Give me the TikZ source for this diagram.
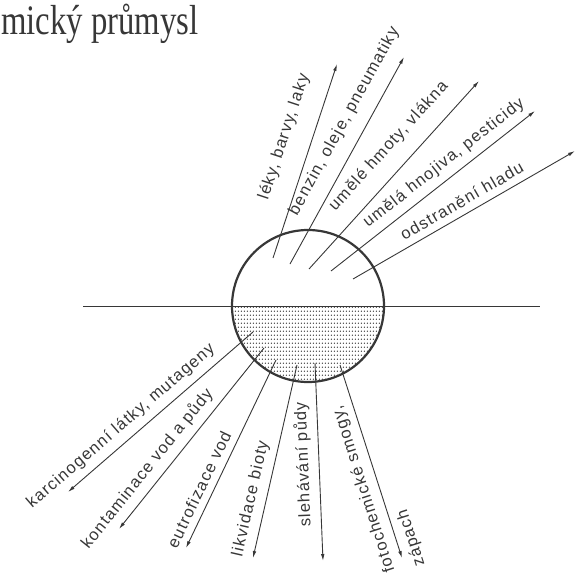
\documentclass[tikz,border=0pt]{standalone}
\usepackage{fontspec}
\usepackage{tikz}
\usetikzlibrary{arrows.meta,patterns.meta}
\newfontfamily\labelfont[LetterSpace=7]{Liberation Sans}
\newfontfamily\titlefont[FakeStretch=0.78]{Liberation Serif}
\definecolor{inkgray}{RGB}{55,55,55}
\tikzdeclarepattern{name=seadots, type=uncolored, bounding box={(0pt,0pt) and (3.3pt,3.8pt)}, tile size={(3.3pt,3.8pt)}, code={\fill (1.65pt,1.9pt) circle (0.8pt);}}
\tikzset{globe/.style={circle, draw=inkgray, line width=2.2pt, minimum size=152pt, inner sep=0pt}, dotfill/.style={pattern=seadots, pattern color=black!70}, flow/.style={-{Latex[length=7pt,width=3.6pt]}, line width=0.9pt, draw=inkgray}, lbl/.style={sloped, above=7pt, inner sep=0pt, text=inkgray, font=\labelfont\fontsize{16.5}{19}\selectfont}, lblup/.style={sloped, allow upside down, rotate=180, above=7pt, inner sep=0pt, text=inkgray, font=\labelfont\fontsize{16.5}{19}\selectfont}, lblright/.style={sloped, allow upside down, rotate=180, below=7pt, inner sep=0pt, text=inkgray, font=\labelfont\fontsize{16.5}{19}\selectfont}}
\begin{document}
\begin{tikzpicture}[x=1pt,y=-1pt]
\useasboundingbox (0,0) rectangle (576,578);
\clip (0,0) rectangle (576,578);
\node[anchor=base west, inner sep=0pt, text=inkgray, font=\titlefont\fontsize{42}{44}\selectfont] (title) at (1,35) {mický průmysl};
\coordinate (core) at (308,306);
\fill[dotfill] (core) ++(-76,0) arc[start angle=180, end angle=0, radius=76] -- cycle;
\coordinate (horizonL) at (83,306);
\coordinate (horizonR) at (540,306);
\draw[inkgray, line width=0.8pt] (horizonL) -- (horizonR);
\node[globe] (earth) at (core) {};
% useful products
\coordinate (u1) at (273,258); \coordinate (v1) at (337,64);
\coordinate (u2) at (290,264); \coordinate (v2) at (404,57);
\coordinate (u3) at (309,269); \coordinate (v3) at (479,81);
\coordinate (u4) at (331,271); \coordinate (v4) at (535,111);
\coordinate (u5) at (353,279); \coordinate (v5) at (575,151);
\draw[flow] (u1) -- node[lbl, above=12pt, pos=0.58] {léky, barvy, laky} (v1);
\draw[flow] (u2) -- node[lbl, above=6pt, pos=0.64] {benzin, oleje, pneumatiky} (v2);
\draw[flow] (u3) -- node[lbl, above=8pt, pos=0.57] {umělé hmoty, vlákna} (v3);
\draw[flow] (u4) -- node[lbl, pos=0.60] {umělá hnojiva, pesticidy} (v4);
\draw[flow] (u5) -- node[lbl, pos=0.52] {odstranění hladu} (v5);
% harmful effects
\coordinate (d1) at (253,332); \coordinate (w1) at (68,492);
\coordinate (d2) at (264,348); \coordinate (w2) at (119,529);
\coordinate (d3) at (276,360); \coordinate (w3) at (186,548);
\coordinate (d4) at (297,365); \coordinate (w4) at (253,558);
\coordinate (d5) at (315,363); \coordinate (w5) at (323,561);
\coordinate (d6) at (340,365); \coordinate (w6) at (402,558);
\draw[flow] (d1) -- node[lbl, pos=0.66] {karcinogenní látky, mutageny} (w1);
\draw[flow] (d2) -- node[lbl, pos=0.72] {kontaminace vod a půdy} (w2);
\draw[flow] (d3) -- node[lbl, pos=0.72] {eutrofizace vod} (w3);
\draw[flow] (d4) -- node[lbl, pos=0.71] {likvidace bioty} (w4);
\draw[flow] (d5) -- node[lblup, pos=0.51] {slehávání půdy} (w5);
\draw[flow] (d6) -- node[lblup, pos=0.62] {fotochemické smogy,} node[lblright, pos=0.92] {zápach} (w6);
\end{tikzpicture}
\end{document}
